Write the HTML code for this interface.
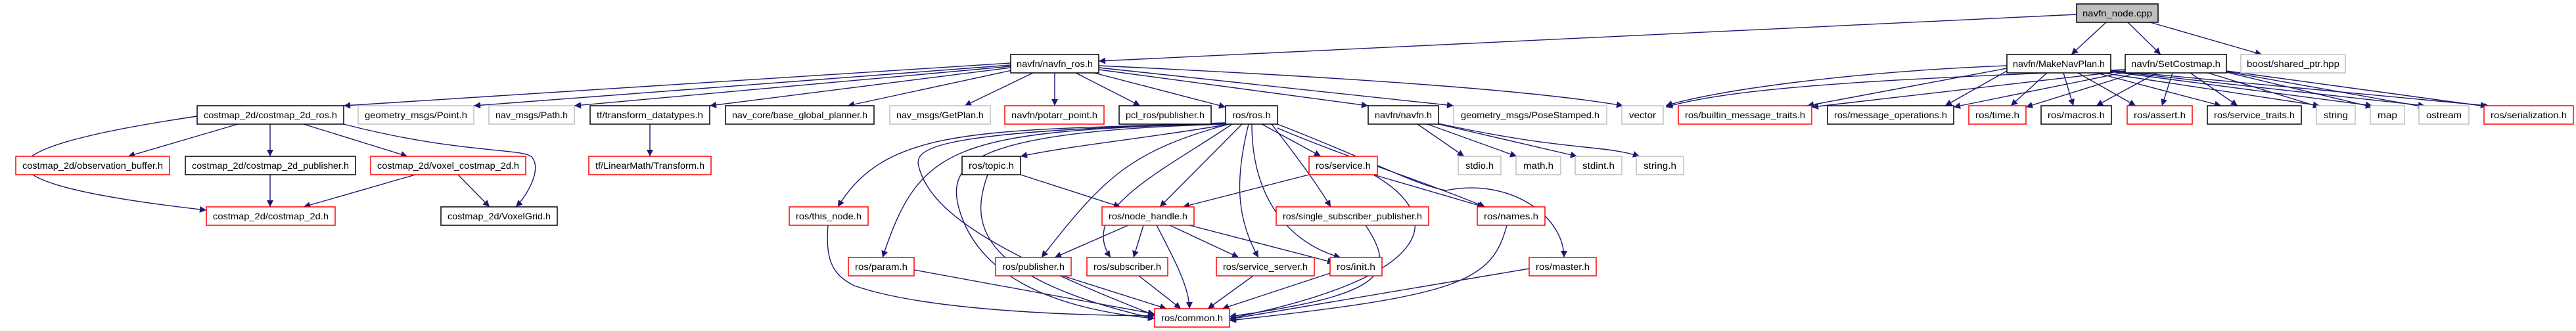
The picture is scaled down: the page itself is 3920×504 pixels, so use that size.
<!DOCTYPE html>
<html><head><meta charset="utf-8"><style>
html,body{margin:0;padding:0;background:#fff;}
svg{display:block;}
text{font-family:"Liberation Sans",sans-serif;font-size:14px;fill:#000;}
.e{fill:none;stroke:#191970;stroke-width:1.4;marker-end:url(#a);}
.b{fill:#fff;stroke:#000;stroke-width:1.5;}
.r{fill:#fff;stroke:#ff0000;stroke-width:1.5;}
.g{fill:#fff;stroke:#bfbfbf;stroke-width:1.5;}
</style></head><body>
<svg width="3920" height="504" viewBox="0 0 3920 504" xmlns="http://www.w3.org/2000/svg">
<defs><marker id="a" viewBox="0 0 10 10" refX="10" refY="5" markerUnits="userSpaceOnUse" markerWidth="13" markerHeight="10" orient="auto"><path d="M0,0 L10,5 L0,10 z" fill="#191970"/></marker></defs>
<g>
<path class="e" d="M3160,22 L1672,93"/>
<path class="e" d="M3205,34 L3152,83"/>
<path class="e" d="M3238,34 L3288,83"/>
<path class="e" d="M3272,34 L3442,83"/>
<path class="e" d="M1538,96 L523,161"/>
<path class="e" d="M1538,99 L721,161"/>
<path class="e" d="M1538,101 L874,161"/>
<path class="e" d="M1538,103 L1080,161"/>
<path class="e" d="M1540,107 L1290,161"/>
<path class="e" d="M1572,111 L1468,161"/>
<path class="e" d="M1605,111 L1605,161"/>
<path class="e" d="M1637,111 L1735,161"/>
<path class="e" d="M1665,111 L1865,163"/>
<path class="e" d="M1672,106 L2082,161"/>
<path class="e" d="M1672,103 L2212,161"/>
<path class="e" d="M1672,100 C2100,120 2350,140 2470,161"/>
<path class="e" d="M3054,100 C2800,110 2600,140 2535,161"/>
<path class="e" d="M3054,104 L2750,161"/>
<path class="e" d="M3054,108 L2960,161"/>
<path class="e" d="M3115,111 L3060,161"/>
<path class="e" d="M3140,111 L3155,161"/>
<path class="e" d="M3162,111 L3250,161"/>
<path class="e" d="M3190,111 L3380,161"/>
<path class="e" d="M3200,111 L3530,161"/>
<path class="e" d="M3212,109 L3610,161"/>
<path class="e" d="M3212,108 L3690,161"/>
<path class="e" d="M3212,107 L3785,161"/>
<path class="e" d="M3234,106 C2900,120 2650,130 2535,163"/>
<path class="e" d="M3234,108 L2757,163"/>
<path class="e" d="M3234,110 L2973,163"/>
<path class="e" d="M3250,111 L3083,163"/>
<path class="e" d="M3282,111 L3190,161"/>
<path class="e" d="M3306,111 L3290,161"/>
<path class="e" d="M3333,111 L3405,161"/>
<path class="e" d="M3360,111 L3530,163"/>
<path class="e" d="M3388,110 L3610,163"/>
<path class="e" d="M3388,109 L3690,163"/>
<path class="e" d="M3388,108 L3790,163"/>
<path class="e" d="M362,189 L195,238"/>
<path class="e" d="M411,189 L411,238"/>
<path class="e" d="M462,189 L620,238"/>
<path class="e" d="M300,177 C-60,230 -40,280 314,320"/>
<path class="e" d="M523,189 C700,235 800,225 810,240 C825,260 800,300 785,315"/>
<path class="e" d="M411,266 L411,315"/>
<path class="e" d="M632,266 L462,315"/>
<path class="e" d="M697,266 L745,315"/>
<path class="e" d="M989,189 L989,238"/>
<path class="e" d="M1865,190 C1750,210 1640,220 1553,238"/>
<path class="e" d="M1865,187 C1500,200 1350,190 1275,315"/>
<path class="e" d="M1865,188 C1450,200 1400,220 1343,392"/>
<path class="e" d="M1865,188 C1380,200 1390,230 1400,260 C1420,320 1500,380 1757,480"/>
<path class="e" d="M1865,189 C1470,200 1440,250 1460,320 C1490,420 1600,470 1757,485"/>
<path class="e" d="M1503,266 C1480,330 1470,420 1757,485"/>
<path class="e" d="M1870,189 C1720,230 1680,270 1585,392"/>
<path class="e" d="M1875,189 C1770,260 1640,320 1690,392"/>
<path class="e" d="M1890,189 L1765,315"/>
<path class="e" d="M1900,189 C1880,270 1880,330 1915,392"/>
<path class="e" d="M1905,189 C1905,300 1960,370 2040,392"/>
<path class="e" d="M1920,189 L2010,238"/>
<path class="e" d="M1935,189 C1990,260 2010,290 2025,315"/>
<path class="e" d="M1944,195 C2050,240 2150,270 2260,315"/>
<path class="e" d="M1944,189 C2100,250 2150,280 2200,290 C2300,270 2380,330 2380,392"/>
<path class="e" d="M1553,266 L1705,315"/>
<path class="e" d="M1992,266 L1800,315"/>
<path class="e" d="M2090,266 L2258,315"/>
<path class="e" d="M2090,266 C2200,330 2190,420 1871,485"/>
<path class="e" d="M1717,343 L1605,392"/>
<path class="e" d="M1740,343 L1725,392"/>
<path class="e" d="M1780,343 L1885,392"/>
<path class="e" d="M1760,343 C1790,400 1810,440 1810,470"/>
<path class="e" d="M1810,343 L2030,400"/>
<path class="e" d="M1260,343 C1255,400 1270,420 1300,435 C1400,470 1600,480 1757,481"/>
<path class="e" d="M1391,411 L1757,478"/>
<path class="e" d="M1617,420 L1775,470"/>
<path class="e" d="M1733,420 L1797,470"/>
<path class="e" d="M1907,420 L1838,470"/>
<path class="e" d="M2024,416 L1860,470"/>
<path class="e" d="M2078,343 C2130,420 2100,450 1871,482"/>
<path class="e" d="M2293,343 C2270,430 2220,450 1871,488"/>
<path class="e" d="M2327,409 L1871,486"/>
<path class="e" d="M2157,189 L2228,238"/>
<path class="e" d="M2172,189 L2308,238"/>
<path class="e" d="M2189,189 L2400,238"/>
<path class="e" d="M2189,188 C2380,230 2440,220 2495,238"/>
</g>
<g>
<rect x="3160" y="6" width="124" height="28" fill="#bfbfbf" stroke="#000" stroke-width="1.5"/><text x="3169" y="25" textLength="106" lengthAdjust="spacingAndGlyphs">navfn_node.cpp</text>
<rect class="b" x="1538" y="83" width="134" height="28"/><text x="1547" y="102" textLength="116" lengthAdjust="spacingAndGlyphs">navfn/navfn_ros.h</text>
<rect class="b" x="3054" y="83" width="158" height="28"/><text x="3063" y="102" textLength="140" lengthAdjust="spacingAndGlyphs">navfn/MakeNavPlan.h</text>
<rect class="b" x="3234" y="83" width="154" height="28"/><text x="3243" y="102" textLength="136" lengthAdjust="spacingAndGlyphs">navfn/SetCostmap.h</text>
<rect class="g" x="3410" y="83" width="159" height="28"/><text x="3419" y="102" textLength="141" lengthAdjust="spacingAndGlyphs">boost/shared_ptr.hpp</text>

<rect class="b" x="300" y="161" width="223" height="28"/><text x="310" y="180" textLength="203" lengthAdjust="spacingAndGlyphs">costmap_2d/costmap_2d_ros.h</text>
<rect class="g" x="545" y="161" width="176" height="28"/><text x="555" y="180" textLength="156" lengthAdjust="spacingAndGlyphs">geometry_msgs/Point.h</text>
<rect class="g" x="744" y="161" width="130" height="28"/><text x="754" y="180" textLength="110" lengthAdjust="spacingAndGlyphs">nav_msgs/Path.h</text>
<rect class="b" x="898" y="161" width="182" height="28"/><text x="908" y="180" textLength="162" lengthAdjust="spacingAndGlyphs">tf/transform_datatypes.h</text>
<rect class="b" x="1104" y="161" width="226" height="28"/><text x="1114" y="180" textLength="206" lengthAdjust="spacingAndGlyphs">nav_core/base_global_planner.h</text>
<rect class="g" x="1354" y="161" width="153" height="28"/><text x="1364" y="180" textLength="133" lengthAdjust="spacingAndGlyphs">nav_msgs/GetPlan.h</text>
<rect class="r" x="1529" y="161" width="151" height="28"/><text x="1539" y="180" textLength="131" lengthAdjust="spacingAndGlyphs">navfn/potarr_point.h</text>
<rect class="b" x="1703" y="161" width="140" height="28"/><text x="1713" y="180" textLength="120" lengthAdjust="spacingAndGlyphs">pcl_ros/publisher.h</text>
<rect class="b" x="1865" y="161" width="79" height="28"/><text x="1875" y="180" textLength="59" lengthAdjust="spacingAndGlyphs">ros/ros.h</text>
<rect class="b" x="2082" y="161" width="107" height="28"/><text x="2092" y="180" textLength="87" lengthAdjust="spacingAndGlyphs">navfn/navfn.h</text>
<rect class="g" x="2212" y="161" width="233" height="28"/><text x="2223" y="180" textLength="211" lengthAdjust="spacingAndGlyphs">geometry_msgs/PoseStamped.h</text>
<rect class="g" x="2468" y="161" width="63" height="28"/><text x="2479" y="180" textLength="41" lengthAdjust="spacingAndGlyphs">vector</text>
<rect class="r" x="2554" y="161" width="203" height="28"/><text x="2564" y="180" textLength="183" lengthAdjust="spacingAndGlyphs">ros/builtin_message_traits.h</text>
<rect class="b" x="2781" y="161" width="192" height="28"/><text x="2791" y="180" textLength="172" lengthAdjust="spacingAndGlyphs">ros/message_operations.h</text>
<rect class="r" x="2996" y="161" width="87" height="28"/><text x="3006" y="180" textLength="67" lengthAdjust="spacingAndGlyphs">ros/time.h</text>
<rect class="b" x="3106" y="161" width="107" height="28"/><text x="3116" y="180" textLength="87" lengthAdjust="spacingAndGlyphs">ros/macros.h</text>
<rect class="r" x="3237" y="161" width="99" height="28"/><text x="3247" y="180" textLength="79" lengthAdjust="spacingAndGlyphs">ros/assert.h</text>
<rect class="b" x="3359" y="161" width="143" height="28"/><text x="3369" y="180" textLength="123" lengthAdjust="spacingAndGlyphs">ros/service_traits.h</text>
<rect class="g" x="3525" y="161" width="59" height="28"/><text x="3536" y="180" textLength="37" lengthAdjust="spacingAndGlyphs">string</text>
<rect class="g" x="3607" y="161" width="52" height="28"/><text x="3618" y="180" textLength="30" lengthAdjust="spacingAndGlyphs">map</text>
<rect class="g" x="3681" y="161" width="76" height="28"/><text x="3692" y="180" textLength="54" lengthAdjust="spacingAndGlyphs">ostream</text>
<rect class="r" x="3780" y="161" width="136" height="28"/><text x="3790" y="180" textLength="116" lengthAdjust="spacingAndGlyphs">ros/serialization.h</text>

<rect class="r" x="24" y="238" width="234" height="28"/><text x="34" y="257" textLength="214" lengthAdjust="spacingAndGlyphs">costmap_2d/observation_buffer.h</text>
<rect class="b" x="282" y="238" width="259" height="28"/><text x="292" y="257" textLength="239" lengthAdjust="spacingAndGlyphs">costmap_2d/costmap_2d_publisher.h</text>
<rect class="r" x="564" y="238" width="236" height="28"/><text x="574" y="257" textLength="216" lengthAdjust="spacingAndGlyphs">costmap_2d/voxel_costmap_2d.h</text>
<rect class="r" x="896" y="238" width="186" height="28"/><text x="906" y="257" textLength="166" lengthAdjust="spacingAndGlyphs">tf/LinearMath/Transform.h</text>
<rect class="b" x="1464" y="238" width="89" height="28"/><text x="1474" y="257" textLength="69" lengthAdjust="spacingAndGlyphs">ros/topic.h</text>
<rect class="r" x="1992" y="238" width="104" height="28"/><text x="2002" y="257" textLength="84" lengthAdjust="spacingAndGlyphs">ros/service.h</text>
<rect class="g" x="2219" y="238" width="65" height="28"/><text x="2230" y="257" textLength="43" lengthAdjust="spacingAndGlyphs">stdio.h</text>
<rect class="g" x="2307" y="238" width="68" height="28"/><text x="2318" y="257" textLength="46" lengthAdjust="spacingAndGlyphs">math.h</text>
<rect class="g" x="2397" y="238" width="71" height="28"/><text x="2408" y="257" textLength="49" lengthAdjust="spacingAndGlyphs">stdint.h</text>
<rect class="g" x="2490" y="238" width="72" height="28"/><text x="2501" y="257" textLength="50" lengthAdjust="spacingAndGlyphs">string.h</text>

<rect class="r" x="314" y="315" width="196" height="28"/><text x="324" y="334" textLength="176" lengthAdjust="spacingAndGlyphs">costmap_2d/costmap_2d.h</text>
<rect class="b" x="671" y="315" width="177" height="28"/><text x="681" y="334" textLength="157" lengthAdjust="spacingAndGlyphs">costmap_2d/VoxelGrid.h</text>
<rect class="r" x="1201" y="315" width="120" height="28"/><text x="1211" y="334" textLength="100" lengthAdjust="spacingAndGlyphs">ros/this_node.h</text>
<rect class="r" x="1677" y="315" width="140" height="28"/><text x="1687" y="334" textLength="120" lengthAdjust="spacingAndGlyphs">ros/node_handle.h</text>
<rect class="r" x="1942" y="315" width="232" height="28"/><text x="1952" y="334" textLength="212" lengthAdjust="spacingAndGlyphs">ros/single_subscriber_publisher.h</text>
<rect class="r" x="2248" y="315" width="103" height="28"/><text x="2258" y="334" textLength="83" lengthAdjust="spacingAndGlyphs">ros/names.h</text>

<rect class="r" x="1291" y="392" width="100" height="28"/><text x="1301" y="411" textLength="80" lengthAdjust="spacingAndGlyphs">ros/param.h</text>
<rect class="r" x="1515" y="392" width="115" height="28"/><text x="1525" y="411" textLength="95" lengthAdjust="spacingAndGlyphs">ros/publisher.h</text>
<rect class="r" x="1654" y="392" width="123" height="28"/><text x="1664" y="411" textLength="103" lengthAdjust="spacingAndGlyphs">ros/subscriber.h</text>
<rect class="r" x="1851" y="392" width="149" height="28"/><text x="1861" y="411" textLength="129" lengthAdjust="spacingAndGlyphs">ros/service_server.h</text>
<rect class="r" x="2024" y="392" width="79" height="28"/><text x="2034" y="411" textLength="59" lengthAdjust="spacingAndGlyphs">ros/init.h</text>
<rect class="r" x="2327" y="392" width="102" height="28"/><text x="2337" y="411" textLength="82" lengthAdjust="spacingAndGlyphs">ros/master.h</text>

<rect class="r" x="1757" y="470" width="114" height="28"/><text x="1767" y="489" textLength="94" lengthAdjust="spacingAndGlyphs">ros/common.h</text>
</g>
</svg>
</body></html>
